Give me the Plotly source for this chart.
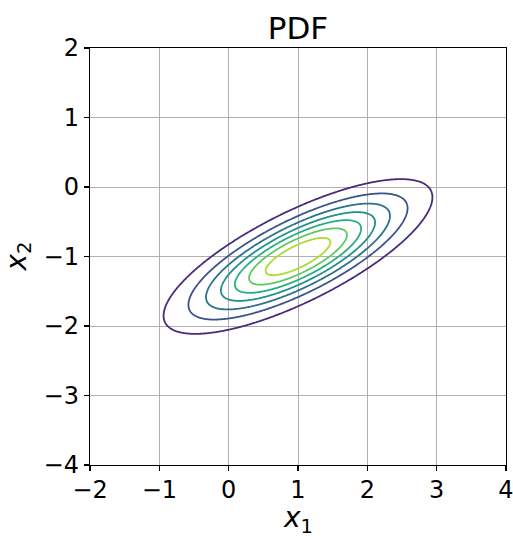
import numpy as np
import plotly.graph_objects as go

# Distribution parameters
MEAN = [1.0, -1.0]
COV = [[0.91, 0.40],
       [0.40, 0.30]]

# Contour levels (7 drawn lines) and their viridis colours (matplotlib viridis at k/8)
LEVELS = [0.06, 0.12, 0.18, 0.24, 0.30, 0.36, 0.42]
LEVEL_COLORS = ["#472c7a", "#3b528b", "#2c728e", "#21918c", "#28ae80", "#5ec962", "#addc30"]

X_RANGE = [-2, 4]
Y_RANGE = [-4, 2]
X_TICKS = [-2, -1, 0, 1, 2, 3, 4]
Y_TICKS = [-4, -3, -2, -1, 0, 1, 2]

TITLE = "PDF"
X_LABEL = "<i>x</i><sub>1</sub>"
Y_LABEL = "<i>x</i><sub>2</sub>"

# grid evaluation of the Gaussian pdf
xs = np.linspace(X_RANGE[0], X_RANGE[1], 401)
ys = np.linspace(Y_RANGE[0], Y_RANGE[1], 401)
XX, YY = np.meshgrid(xs, ys)
mu = np.array(MEAN)
S = np.array(COV)
Si = np.linalg.inv(S)
dx = XX - mu[0]
dy = YY - mu[1]
q = Si[0, 0] * dx * dx + 2 * Si[0, 1] * dx * dy + Si[1, 1] * dy * dy
Z = np.exp(-0.5 * q) / (2 * np.pi * np.sqrt(np.linalg.det(S)))

n = len(LEVELS)
colorscale = [[i / (n - 1), c] for i, c in enumerate(LEVEL_COLORS)]

fig = go.Figure()
fig.add_trace(go.Contour(
    x=xs, y=ys, z=Z,
    contours=dict(coloring="lines", start=LEVELS[0], end=LEVELS[-1],
                  size=LEVELS[1] - LEVELS[0], showlabels=False),
    colorscale=colorscale,
    showscale=False,
    line=dict(width=1.8, smoothing=1),
    hoverinfo="skip",
))

FONT = "DejaVu Sans"
TICK_FS = 24
TITLE_FS = 31
LABEL_FS = 28

axis_common = dict(
    showgrid=True, gridcolor="#b0b0b0", gridwidth=1,
    showline=True, mirror=True, linecolor="black", linewidth=1.2,
    ticks="outside", ticklen=5, tickwidth=1.2, tickcolor="black",
    zeroline=False, automargin=False, ticklabeloverflow="allow",
    tickfont=dict(family=FONT, size=TICK_FS, color="black"),
)

fig.update_layout(
    width=513, height=536,
    margin=dict(l=90, r=7, t=48, b=71, autoexpand=False),
    paper_bgcolor="white", plot_bgcolor="white",
    showlegend=False,
    xaxis=dict(range=X_RANGE, tickvals=X_TICKS, ticklabelstandoff=-2, **axis_common),
    yaxis=dict(range=Y_RANGE, tickvals=Y_TICKS, **axis_common),
    title=dict(text=TITLE, x=0.5, xref="paper", y=1 - 28 / 536, yref="container",
               xanchor="center", yanchor="middle", automargin=False,
               font=dict(family=FONT, size=TITLE_FS, color="black")),
    annotations=[
        dict(text=X_LABEL, xref="paper", yref="paper", x=0.5, y=0,
             xanchor="center", yanchor="middle", yshift=-54, showarrow=False,
             font=dict(family=FONT, size=LABEL_FS, color="black")),
        dict(text=Y_LABEL, xref="paper", yref="paper", x=0, y=0.5,
             xanchor="center", yanchor="middle", xshift=-72, textangle=-90,
             showarrow=False,
             font=dict(family=FONT, size=LABEL_FS, color="black")),
    ],
)

fig.write_html("out.html",
               config={"displayModeBar": False, "staticPlot": True},
               post_script="document.body.style.margin='0';document.body.style.overflow='hidden';")
